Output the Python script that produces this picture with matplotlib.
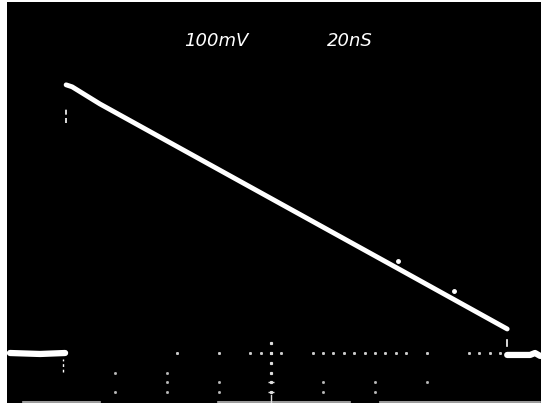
"""
    Oscilloscope capture: sawtooth ramp, 100 mV/div, 20 ns/div
"""

import numpy as np
from matplotlib import pyplot as plt

# trace (ns, mV relative to baseline)
ramp_t = [21.2, 23.5, 34.2, 103.5, 149.6, 190.8]
ramp_v = [547, 543, 508, 305, 170, 49]

base_left_t = [-0.4, 11.2, 20.8]
base_left_v = [0, -2, 0]
base_right_t = [190.8, 199.6, 201.5, 203.5]
base_right_v = [-4, -4, 0, -6]

# stray bright specks next to the trace
speck_t = [148.8, 170.4]
speck_v = [188, 127]

# graticule marks that show through in the photo
hdots_t = [64, 80, 92, 96, 100, 104, 116, 120, 124, 128, 132, 136, 140,
           144, 148, 152, 160, 176, 180, 184, 188]
center_v = [20, 0, -20, -40, -60, -80]
major_t = [40, 40, 60, 60, 60, 80, 80, 120, 120, 140, 140, 160]
major_v = [-40, -80, -40, -60, -80, -60, -80, -60, -80, -60, -80, -60]
bottom_segs = [(4.6, 34.2), (79.6, 130.4), (142.0, 203.5)]

volts_label = "100mV"
time_label = "20nS"

fig = plt.figure(figsize=(5.5, 4.06), dpi=100, facecolor='white')
ax = fig.add_axes([7/550, 2/406, 534/550, 401/406])
ax.set_facecolor('black')
ax.set_xlim(-1.54, 203.8)
ax.set_ylim(-102, 716)
ax.set_xticks([])
ax.set_yticks([])
for s in ax.spines.values():
    s.set_visible(False)

# graticule
ax.plot(hdots_t, np.zeros(len(hdots_t)), ls='none', marker='s', ms=1.1, color='#cccccc')
ax.plot(np.full(len(center_v), 100), center_v, ls='none', marker='s', ms=1.3, color='#dddddd')
ax.plot([100, 100], [-60, -80], ls='none', marker='_', ms=5, mew=1, color='#dddddd')
ax.plot(major_t, major_v, ls='none', marker='s', ms=1.0, color='#bbbbbb')
for a, b in bottom_segs:
    ax.plot([a, b], [-100, -100], color='#bbbbbb', lw=1.2)
ax.plot([100, 100], [-100, -86], color='#dddddd', lw=1)

# faint edges
ax.plot([20.0, 20.0], [-38, -13], color='white', lw=1, ls=(0, (2, 2)))
ax.plot([21.2, 21.2], [470, 497], color='white', lw=1.2, ls=(0, (3, 2)))
ax.plot([190.8, 190.8], [26, 14], color='white', lw=1.2)

# trace
ax.plot(ramp_t, ramp_v, color='white', lw=3.5, solid_capstyle='round')
ax.plot(base_left_t, base_left_v, color='white', lw=4.5, solid_capstyle='round')
ax.plot(base_right_t, base_right_v, color='white', lw=4.5, solid_capstyle='round')
ax.plot(speck_t, speck_v, ls='none', marker='o', ms=2.5, color='white')

ax.text(78.8, 639, volts_label, color='white', fontsize=13, style='italic',
        ha='center', va='center')
ax.text(130.4, 639, time_label, color='white', fontsize=13, style='italic',
        ha='center', va='center')

fig.savefig('out.png', dpi=100, facecolor='white')
